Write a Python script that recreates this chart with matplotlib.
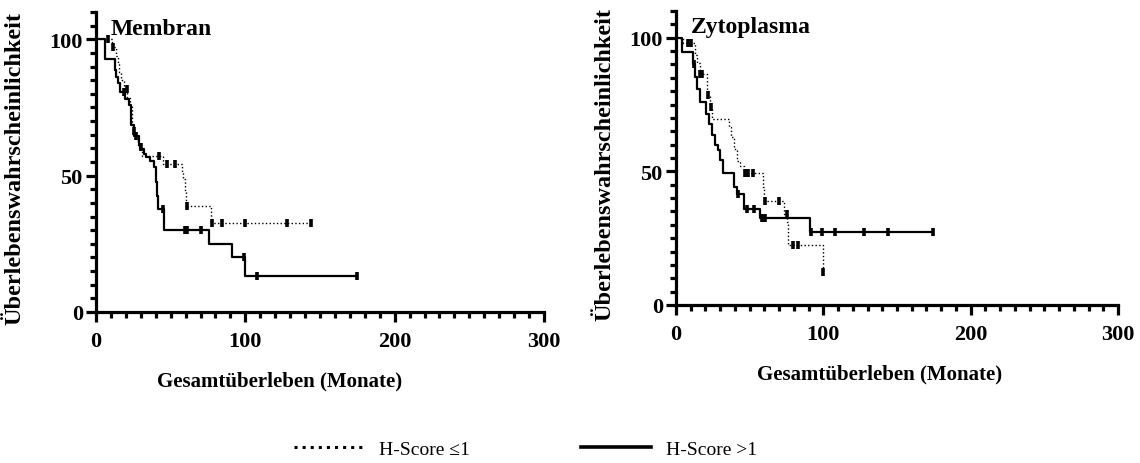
import matplotlib
matplotlib.use("Agg")
import matplotlib.pyplot as plt
import numpy as np
from matplotlib.lines import Line2D
from matplotlib.ticker import MultipleLocator

plt.rcParams["font.family"] = ["Liberation Serif", "DejaVu Serif"]

# Membran, H-Score >1 (solid)
mem_hi_t = [0, 6, 12.5, 13.5, 14.7, 16.3, 19.6, 22.3, 23.6, 25.2, 28.5, 29.7, 31.9, 33.4,
            36.3, 38.8, 40.1, 41.0, 41.7, 45.7, 75.5, 91.0, 100.0]
mem_hi_s = [100, 92.9, 88.7, 86.0, 84.0, 80.7, 78.2, 75.8, 68.4, 64.7, 61.6, 59.8, 57.9, 56.7,
            55.5, 53.0, 47.5, 42.6, 37.6, 30.0, 25.0, 20.0, 13.3]
mem_hi_cens = [18.5, 27.0, 44.6, 59.5, 61.0, 70.2, 99.2, 108.1, 175.0]

# Membran, H-Score <=1 (dotted)
mem_lo_t = [0, 11.0, 13.5, 14.5, 15.5, 17, 19, 21, 22.5, 23.9, 24.5, 26.5, 28, 31, 45,
            57.3, 58.4, 59.7, 60.6, 76.7]
mem_lo_s = [100, 97.3, 94, 91, 88, 85, 81.8, 78.5, 75.5, 69.6, 66.5, 63.5, 60.4, 57.3, 54.2,
            51.5, 48.6, 44.3, 38.9, 32.5]
mem_lo_cens = [8.2, 11.6, 20.5, 25.5, 30.0, 42.0, 47.7, 53.0, 61.0, 78.0, 84.5, 100.0, 128.0, 144.3]

# Zytoplasma, H-Score >1 (solid)
zyt_hi_t = [0, 3.8, 11.3, 12.9, 14.0, 16.3, 20.4, 22.2, 24.5, 26.7, 28.3, 29.6, 31.7, 39.6,
            41.5, 46.2, 57.0, 91.0]
zyt_hi_s = [100, 94.6, 90.3, 85.3, 80.9, 75.9, 71.5, 67.8, 63.5, 59.7, 57.9, 54.1, 49.3, 44.1,
            41.6, 35.9, 32.4, 27.2]
zyt_hi_cens = [12.0, 42.3, 48.0, 53.0, 58.2, 60.4, 91.5, 98.9, 108.0, 127.9, 143.7, 174.7]

# Zytoplasma, H-Score <=1 (dotted)
zyt_lo_t = [0, 5, 12.9, 14.2, 16.0, 21.0, 21.9, 23.0, 24.2, 36.0, 37.5, 39.5, 41.2, 43.5,
            46.0, 58.8, 60.0, 73.5, 75.1, 76.3, 99.6]
zyt_lo_s = [100, 98.0, 93.4, 90.5, 86.5, 80.0, 78.4, 74.1, 69.6, 66.5, 62.7, 58.3, 53.9, 52.0,
            49.3, 44.1, 38.9, 34.1, 30.9, 22.5, 12.2]
zyt_lo_cens = [7.9, 10.0, 16.5, 17.4, 22.0, 23.5, 46.5, 49.1, 52.5, 60.4, 70.0, 75.0, 79.7,
               83.0, 100.0]

panel_titles = ["Membran", "Zytoplasma"]
legend_labels = ["H-Score \u22641", "H-Score >1"]
xlabel = "Gesamtüberleben (Monate)"
ylabel = "Überlebenswahrscheinlichkeit"


def survival_at(times, surv, t):
    idx = np.searchsorted(np.array(times), np.array(t), side="right") - 1
    return np.array(surv)[idx]


def draw_curve(ax, times, surv, cens, style, lw):
    end = max(max(cens), times[-1])
    xs = list(times) + [end]
    ys = list(surv) + [surv[-1]]
    ax.step(xs, ys, where="post", color="black", linestyle=style, lw=lw)
    ax.plot(cens, survival_at(times, surv, cens), linestyle="none", marker="|",
            color="black", markersize=6, markeredgewidth=2.6)


def style_axes(ax, title, xlab_x, xlab_y, ylab_x):
    ax.set_xlim(0, 300)
    ax.set_ylim(0, 110)
    for side in ["top", "right"]:
        ax.spines[side].set_visible(False)
    for side in ["left", "bottom"]:
        ax.spines[side].set_linewidth(2.3)
    ax.xaxis.set_major_locator(MultipleLocator(100))
    ax.xaxis.set_minor_locator(MultipleLocator(10))
    ax.yaxis.set_minor_locator(MultipleLocator(5))
    ax.set_yticks([0, 50, 100])
    ax.tick_params(which="major", length=7.5, width=2.3, labelsize=16)
    ax.tick_params(which="minor", length=4, width=2.3)
    ax.tick_params(axis="x", which="major", pad=6)
    ax.tick_params(axis="y", which="major", pad=2)
    for lab in ax.get_xticklabels() + ax.get_yticklabels():
        lab.set_fontweight("bold")
    ax.text(10, 102, title, fontsize=17, fontweight="bold", va="baseline")
    ax.set_xlabel(xlabel, fontsize=15, fontweight="bold", ha="left")
    ax.xaxis.set_label_coords(xlab_x, xlab_y)
    ax.set_ylabel(ylabel, fontsize=17.5, fontweight="bold")
    ax.yaxis.set_label_coords(ylab_x, 0.48)


fig = plt.figure(figsize=(11.4, 4.64), dpi=100)
ax1 = fig.add_axes([96 / 1140, 1 - 313 / 464, 448 / 1140, 300 / 464])
ax2 = fig.add_axes([676 / 1140, 1 - 306 / 464, 442 / 1140, 294 / 464])

draw_curve(ax1, mem_lo_t, mem_lo_s, mem_lo_cens, ":", 1.0)
draw_curve(ax1, mem_hi_t, mem_hi_s, mem_hi_cens, "-", 1.6)
draw_curve(ax2, zyt_lo_t, zyt_lo_s, zyt_lo_cens, ":", 1.0)
draw_curve(ax2, zyt_hi_t, zyt_hi_s, zyt_hi_cens, "-", 1.6)

style_axes(ax1, panel_titles[0], 0.136, -0.195, -0.158)
style_axes(ax2, panel_titles[1], 0.183, -0.2, -0.138)

handles = [Line2D([], [], color="black", linestyle=":", lw=2.2),
           Line2D([], [], color="black", linestyle="-", lw=2.6)]
fig.legend(handles, legend_labels, loc="center", bbox_to_anchor=(0.461, 0.03), ncol=2,
           frameon=False, fontsize=14, handlelength=3.6, handletextpad=0.8,
           columnspacing=5.7)

fig.savefig("out.png", dpi=100)
